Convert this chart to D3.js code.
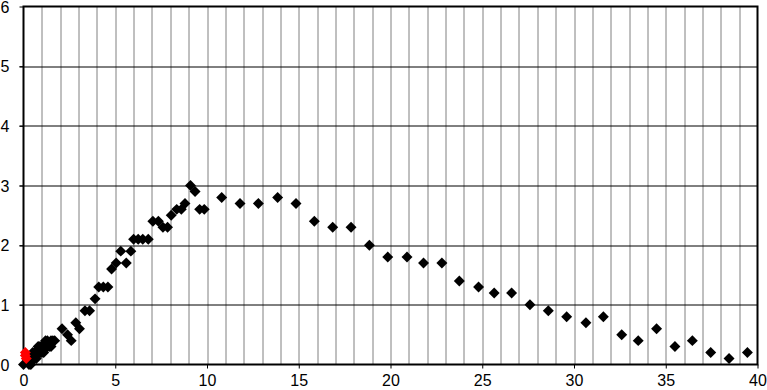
<!DOCTYPE html>
<html>
<head>
<meta charset="utf-8">
<script src="https://cdn.jsdelivr.net/npm/d3@7"></script>
<style>
  html, body { margin: 0; padding: 0; background: #ffffff; }
  svg text { font-family: "Liberation Sans", Arial, sans-serif; font-size: 16px; fill: #000; }
</style>
</head>
<body>
<svg id="chart" width="767" height="390"></svg>
<script>
// black series (x, y pairs)
const blackX = [0, 0.3, 0.4, 0.5, 0.6, 0.7, 0.8, 0.9, 1.0, 1.1, 1.2, 1.3, 1.4, 1.5, 1.6, 1.7,
  0.4, 0.6, 0.7, 0.8, 0.9, 1.1, 1.2, 1.3, 1.5, 0.5, 1.0,
  2.1, 2.4, 2.6, 2.85, 3.05, 3.35, 3.6, 3.9, 4.1, 4.35, 4.6, 4.8, 5.05, 5.3, 5.6, 5.85,
  6.0, 6.25, 6.5, 6.8, 7.05, 7.35, 7.6, 7.85, 8.05, 8.35, 8.6, 8.8, 9.1, 9.35, 9.6, 9.85,
  10.8, 11.8, 12.8, 13.85, 14.85, 15.85, 16.85, 17.85, 18.85, 19.85, 20.9, 21.8, 22.8,
  23.75, 24.8, 25.65, 26.6, 27.6, 28.6, 29.6, 30.65, 31.6, 32.6, 33.5, 34.5, 35.5, 36.45,
  37.45, 38.45, 39.45];
const blackY = [0, 0, 0, 0.1, 0.1, 0.1, 0.2, 0.2, 0.2, 0.2, 0.3, 0.3, 0.3, 0.3, 0.4, 0.4,
  0.1, 0.2, 0.2, 0.3, 0.3, 0.3, 0.4, 0.4, 0.4, 0.2, 0.3,
  0.6, 0.5, 0.4, 0.7, 0.6, 0.9, 0.9, 1.1, 1.3, 1.3, 1.3, 1.6, 1.7, 1.9, 1.7, 1.9,
  2.1, 2.1, 2.1, 2.1, 2.4, 2.4, 2.3, 2.3, 2.5, 2.6, 2.6, 2.7, 3.0, 2.9, 2.6, 2.6,
  2.8, 2.7, 2.7, 2.8, 2.7, 2.4, 2.3, 2.3, 2.0, 1.8, 1.8, 1.7, 1.7,
  1.4, 1.3, 1.2, 1.2, 1.0, 0.9, 0.8, 0.7, 0.8, 0.5, 0.4, 0.6, 0.3, 0.4,
  0.2, 0.1, 0.2];

// red series near the origin
const redX = [0.1, 0.1, 0.15];
const redY = [0.2, 0.15, 0.1];

const xTicks = [0, 5, 10, 15, 20, 25, 30, 35, 40];
const yTicks = [0, 1, 2, 3, 4, 5, 6];

const width = 767, height = 390;
const margin = { top: 6.5, right: 9.5, bottom: 25.5, left: 23.5 };
const innerW = width - margin.left - margin.right;
const innerH = height - margin.top - margin.bottom;

const svg = d3.select('#chart');
const g = svg.append('g').attr('transform', `translate(${margin.left},${margin.top})`);

const x = d3.scaleLinear().domain([0, 40]).range([0, innerW]);
const y = d3.scaleLinear().domain([0, 6]).range([innerH, 0]);

// vertical grid, one per unit (gray)
g.append('g')
  .selectAll('line')
  .data(d3.range(1, 40))
  .join('line')
  .attr('x1', d => Math.round(x(d)) + 0.5)
  .attr('x2', d => Math.round(x(d)) + 0.5)
  .attr('y1', 0)
  .attr('y2', innerH)
  .attr('stroke', '#808080')
  .attr('stroke-width', 1);

// horizontal grid (black)
g.append('g')
  .selectAll('line')
  .data(yTicks.slice(1, -1))
  .join('line')
  .attr('x1', -4)
  .attr('x2', innerW)
  .attr('y1', d => Math.round(y(d)) + 0.5)
  .attr('y2', d => Math.round(y(d)) + 0.5)
  .attr('stroke', '#000')
  .attr('stroke-width', 1);

// axes with small outside ticks
const xAxis = g.append('g')
  .attr('transform', `translate(0,${innerH})`)
  .call(d3.axisBottom(x).tickValues(xTicks).tickSize(4).tickPadding(4).tickFormat(d3.format('d')));
const yAxis = g.append('g')
  .call(d3.axisLeft(y).tickValues(yTicks).tickSize(4).tickPadding(10).tickFormat(d3.format('d')));

[xAxis, yAxis].forEach(a => {
  a.select('.domain').remove();
  a.selectAll('.tick line').attr('stroke', '#000');
  a.selectAll('.tick text')
    .attr('font-family', '"Liberation Sans", Arial, sans-serif')
    .attr('font-size', 16)
    .attr('fill', '#000');
});
xAxis.selectAll('.tick text').attr('dy', '0.85em');
yAxis.selectAll('.tick text').attr('dy', '0.36em');

// plot frame
g.append('rect')
  .attr('x', 0)
  .attr('y', 0)
  .attr('width', innerW)
  .attr('height', innerH)
  .attr('fill', 'none')
  .attr('stroke', '#000')
  .attr('stroke-width', 2);

// diamond markers
const diamond = d3.symbol().type(d3.symbolSquare).size(60);

const blackData = blackX.map((v, i) => ({ x: v, y: blackY[i] }));
const redData = redX.map((v, i) => ({ x: v, y: redY[i] }));

g.append('g')
  .selectAll('path')
  .data(blackData)
  .join('path')
  .attr('d', diamond)
  .attr('transform', d => `translate(${x(d.x)},${y(d.y)}) rotate(45)`)
  .attr('fill', '#000');

// red drawn on top so it shows as in the reference
g.append('g')
  .selectAll('path')
  .data(redData)
  .join('path')
  .attr('d', diamond)
  .attr('transform', d => `translate(${x(d.x)},${y(d.y)}) rotate(45)`)
  .attr('fill', '#ff0000');
</script>
</body>
</html>
